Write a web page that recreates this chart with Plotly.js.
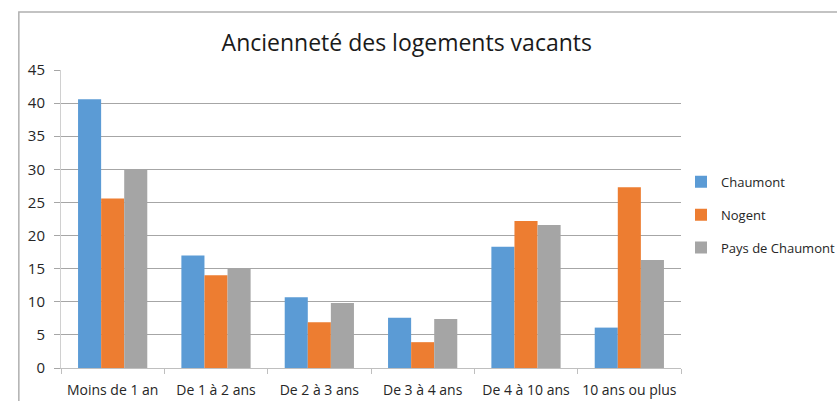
<!DOCTYPE html>
<html>
<head>
<meta charset="utf-8">
<script src="https://cdn.plot.ly/plotly-3.0.1.min.js"></script>
<style>
  body { margin: 0; background: #fff; }
  #chart { width: 837px; height: 401px; }
</style>
</head>
<body>
<div id="chart"></div>
<script>
// categories and values
const categories = ['Moins de 1 an', 'De 1 à 2 ans', 'De 2 à 3 ans', 'De 3 à 4 ans', 'De 4 à 10 ans', '10 ans ou plus'];
const chaumont = [40.6, 17.0, 10.7, 7.6, 18.3, 6.1];
const nogent = [25.6, 14.0, 6.9, 3.9, 22.2, 27.3];
const paysDeChaumont = [30.0, 15.0, 9.8, 7.4, 21.6, 16.3];
const seriesNames = ['Chaumont', 'Nogent', 'Pays de Chaumont'];
const yTicks = [0, 5, 10, 15, 20, 25, 30, 35, 40, 45];

const colors = ['#5B9BD5', '#ED7D31', '#A5A5A5'];
const font = '"Open Sans", sans-serif';

const traces = [chaumont, nogent, paysDeChaumont].map((vals, i) => ({
  type: 'bar',
  name: seriesNames[i],
  x: categories,
  y: vals,
  marker: { color: colors[i] },
  legendgroup: 'g' + i,
  hoverinfo: 'x+y+name'
}));

const layout = {
  width: 837,
  height: 401,
  margin: { l: 61, r: 156, t: 70, b: 33, autoexpand: false },
  paper_bgcolor: '#fff',
  plot_bgcolor: '#fff',
  font: { family: font, size: 13, color: '#262626' },
  title: {
    text: 'Ancienneté des logements vacants',
    font: { family: font, size: 23, color: '#1a1a1a' },
    x: 0.486, xref: 'container', xanchor: 'center',
    y: 0.893, yref: 'container', yanchor: 'middle'
  },
  barmode: 'group',
  bargap: 0.33,
  bargroupgap: 0,
  xaxis: {
    type: 'category',
    showline: true, linecolor: '#bfbfbf', linewidth: 1,
    ticks: 'outside', ticklen: 5, tickcolor: '#bfbfbf',
    tickson: 'boundaries',
    tickangle: 0,
    showgrid: false,
    tickfont: { size: 14, color: '#262626' },
    ticklabelstandoff: 9
  },
  yaxis: {
    range: [0, 45],
    tickvals: yTicks,
    showline: true, linecolor: '#d0d0d0', linewidth: 1,
    ticks: 'outside', ticklen: 6, tickcolor: '#a6a6a6',
    gridcolor: '#a6a6a6', gridwidth: 1,
    zeroline: false,
    tickfont: { size: 15, color: '#262626' },
    ticklabelstandoff: 6
  },
  legend: {
    x: 1.0, xanchor: 'left',
    y: 0.675, yanchor: 'top',
    font: { size: 13, color: '#262626' },
    tracegroupgap: 13,
    itemwidth: 30,
    bgcolor: 'rgba(0,0,0,0)'
  },
  shapes: [{
    type: 'rect', xref: 'paper', yref: 'paper',
    x0: -0.068, x1: 1.5, y0: -0.5, y1: 1.195,
    line: { color: '#b0b0b0', width: 1.5 },
    fillcolor: 'rgba(0,0,0,0)',
    layer: 'below'
  }],
  showlegend: true
};

Plotly.newPlot('chart', traces, layout, { displayModeBar: false, staticPlot: true });
</script>
</body>
</html>
